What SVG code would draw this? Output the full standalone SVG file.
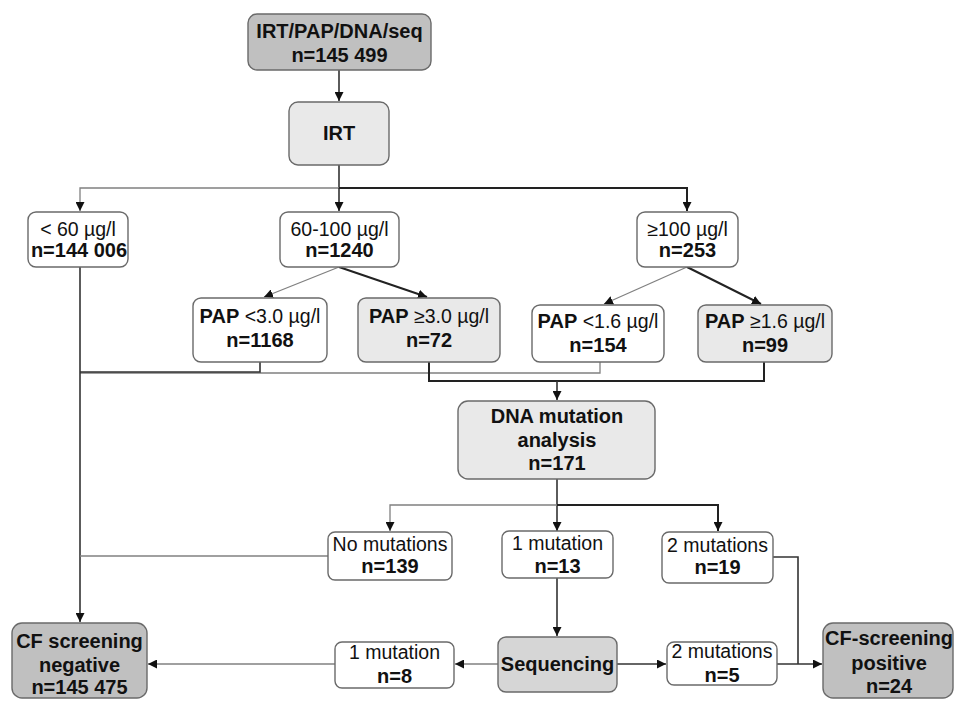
<svg xmlns="http://www.w3.org/2000/svg" width="955" height="701" viewBox="0 0 955 701">
<defs>
<style>
text{font-family:"Liberation Sans",Arial,sans-serif;font-size:19.5px;fill:#111;text-anchor:middle}
.b{font-weight:bold;font-size:20px}
.box{stroke:#6a6a6a;stroke-width:1.4}
.w{fill:#fff}
.l{fill:#e9e9e9}
.m{fill:#d6d6d6}
.d{fill:#c0c0c0}
.thin{fill:none;stroke:#808080;stroke-width:1.3}
.thick{fill:none;stroke:#222;stroke-width:2}
.mid{fill:none;stroke:#333;stroke-width:1.6}
</style>
<marker id="ah" viewBox="0 0 10 10" refX="10" refY="5" markerWidth="9" markerHeight="9" markerUnits="userSpaceOnUse" orient="auto">
<path d="M0,0 L10,5 L0,10 z" fill="#111"/>
</marker>
</defs>

<g id="connectors">
<path class="mid" d="M339,70 V101" marker-end="url(#ah)"/>
<path class="mid" d="M339,165 V188"/>
<path class="thin" d="M339,188 H80 V211" marker-end="url(#ah)"/>
<path class="mid" d="M339,188 V211" marker-end="url(#ah)"/>
<path class="thick" d="M339,188 H687 V211" marker-end="url(#ah)"/>
<path class="thin" d="M339,267 L264,297" marker-end="url(#ah)"/>
<path class="thick" d="M339,267 L427,297" marker-end="url(#ah)"/>
<path class="thin" d="M687,267 L604,304" marker-end="url(#ah)"/>
<path class="thick" d="M687,267 L761,304" marker-end="url(#ah)"/>
<path class="thin" d="M600,362 V373 H80"/>
<path class="mid" d="M260,362 V372 H80"/>
<path class="thick" d="M429,362 V381 H764 V362"/>
<path class="mid" d="M557,381 V400" marker-end="url(#ah)"/>
<path class="mid" d="M80,267 V622" marker-end="url(#ah)"/>
<path class="mid" d="M557,479 V531" marker-end="url(#ah)"/>
<path class="thin" d="M557,505 H390 V531" marker-end="url(#ah)"/>
<path class="thick" d="M557,505 H718 V531" marker-end="url(#ah)"/>
<path class="thin" d="M328,556 H80"/>
<path class="mid" d="M557,578 V636" marker-end="url(#ah)"/>
<path class="thin" d="M498,664 H455" marker-end="url(#ah)"/>
<path class="thin" d="M335,664 H148" marker-end="url(#ah)"/>
<path class="mid" d="M617,664 H666" marker-end="url(#ah)"/>
<path class="mid" d="M777,664 H822" marker-end="url(#ah)"/>
<path class="mid" d="M773,557 H798 V664"/>
</g>

<g id="n-top"><rect class="box d" x="248" y="14" width="183" height="56" rx="9"/>
<text class="b" x="339.5" y="38">IRT/PAP/DNA/seq</text>
<text class="b" x="339.5" y="62">n=145 499</text></g>

<g id="n-irt"><rect class="box l" x="289" y="102" width="100" height="63" rx="9"/>
<text class="b" x="339" y="140">IRT</text></g>

<g id="n-lt60"><rect class="box w" x="28" y="212" width="100" height="55" rx="8"/>
<text x="78" y="236">&lt; 60 µg/l</text>
<text class="b" x="79" y="257">n=144 006</text></g>

<g id="n-60-100"><rect class="box w" x="280" y="212" width="119" height="55" rx="8"/>
<text x="339.5" y="236">60-100 µg/l</text>
<text class="b" x="339.5" y="257">n=1240</text></g>

<g id="n-ge100"><rect class="box w" x="637" y="212" width="101" height="55" rx="8"/>
<text x="687.5" y="236">≥100 µg/l</text>
<text class="b" x="687.5" y="257">n=253</text></g>

<g id="n-pap-lt3"><rect class="box w" x="193" y="298" width="134" height="64" rx="8"/>
<text x="260" y="323"><tspan class="b">PAP</tspan> &lt;3.0 µg/l</text>
<text class="b" x="260" y="347">n=1168</text></g>

<g id="n-pap-ge3"><rect class="box l" x="358" y="298" width="142" height="64" rx="8"/>
<text x="429" y="323"><tspan class="b">PAP</tspan> ≥3.0 µg/l</text>
<text class="b" x="429" y="347">n=72</text></g>

<g id="n-pap-lt16"><rect class="box w" x="532" y="305" width="132" height="57" rx="8"/>
<text x="598" y="328"><tspan class="b">PAP</tspan> &lt;1.6 µg/l</text>
<text class="b" x="598" y="352">n=154</text></g>

<g id="n-pap-ge16"><rect class="box l" x="698" y="305" width="134" height="57" rx="8"/>
<text x="765" y="328"><tspan class="b">PAP</tspan> ≥1.6 µg/l</text>
<text class="b" x="765" y="352">n=99</text></g>

<g id="n-dna"><rect class="box l" x="458" y="401" width="197" height="78" rx="10"/>
<text class="b" x="557" y="423">DNA mutation</text>
<text class="b" x="557" y="447">analysis</text>
<text class="b" x="557" y="470">n=171</text></g>

<g id="n-nomut"><rect class="box w" x="328" y="532" width="124" height="48" rx="7"/>
<text x="390" y="551">No mutations</text>
<text class="b" x="390" y="573">n=139</text></g>

<g id="n-1mut"><rect class="box w" x="502" y="531" width="111" height="47" rx="7"/>
<text x="557.5" y="550">1 mutation</text>
<text class="b" x="557.5" y="573">n=13</text></g>

<g id="n-2mut"><rect class="box w" x="662" y="532" width="111" height="51" rx="7"/>
<text x="717.5" y="552">2 mutations</text>
<text class="b" x="717.5" y="574">n=19</text></g>

<g id="n-seq"><rect class="box m" x="498" y="637" width="119" height="55" rx="8"/>
<text class="b" x="557.5" y="671">Sequencing</text></g>

<g id="n-seq1"><rect class="box w" x="335" y="642" width="119" height="46" rx="7"/>
<text x="394.5" y="659">1 mutation</text>
<text class="b" x="394.5" y="683">n=8</text></g>

<g id="n-seq2"><rect class="box w" x="667" y="642" width="110" height="43" rx="7"/>
<text x="722" y="658">2 mutations</text>
<text class="b" x="722" y="682">n=5</text></g>

<g id="n-neg"><rect class="box d" x="12" y="623" width="135" height="75" rx="10"/>
<text class="b" x="79.5" y="648">CF screening</text>
<text class="b" x="79.5" y="672">negative</text>
<text class="b" x="79.5" y="694">n=145 475</text></g>

<g id="n-pos"><rect class="box d" x="823" y="623" width="130" height="75" rx="10"/>
<text class="b" x="889" y="645">CF-screening</text>
<text class="b" x="889" y="670">positive</text>
<text class="b" x="889" y="693">n=24</text></g>
</svg>
